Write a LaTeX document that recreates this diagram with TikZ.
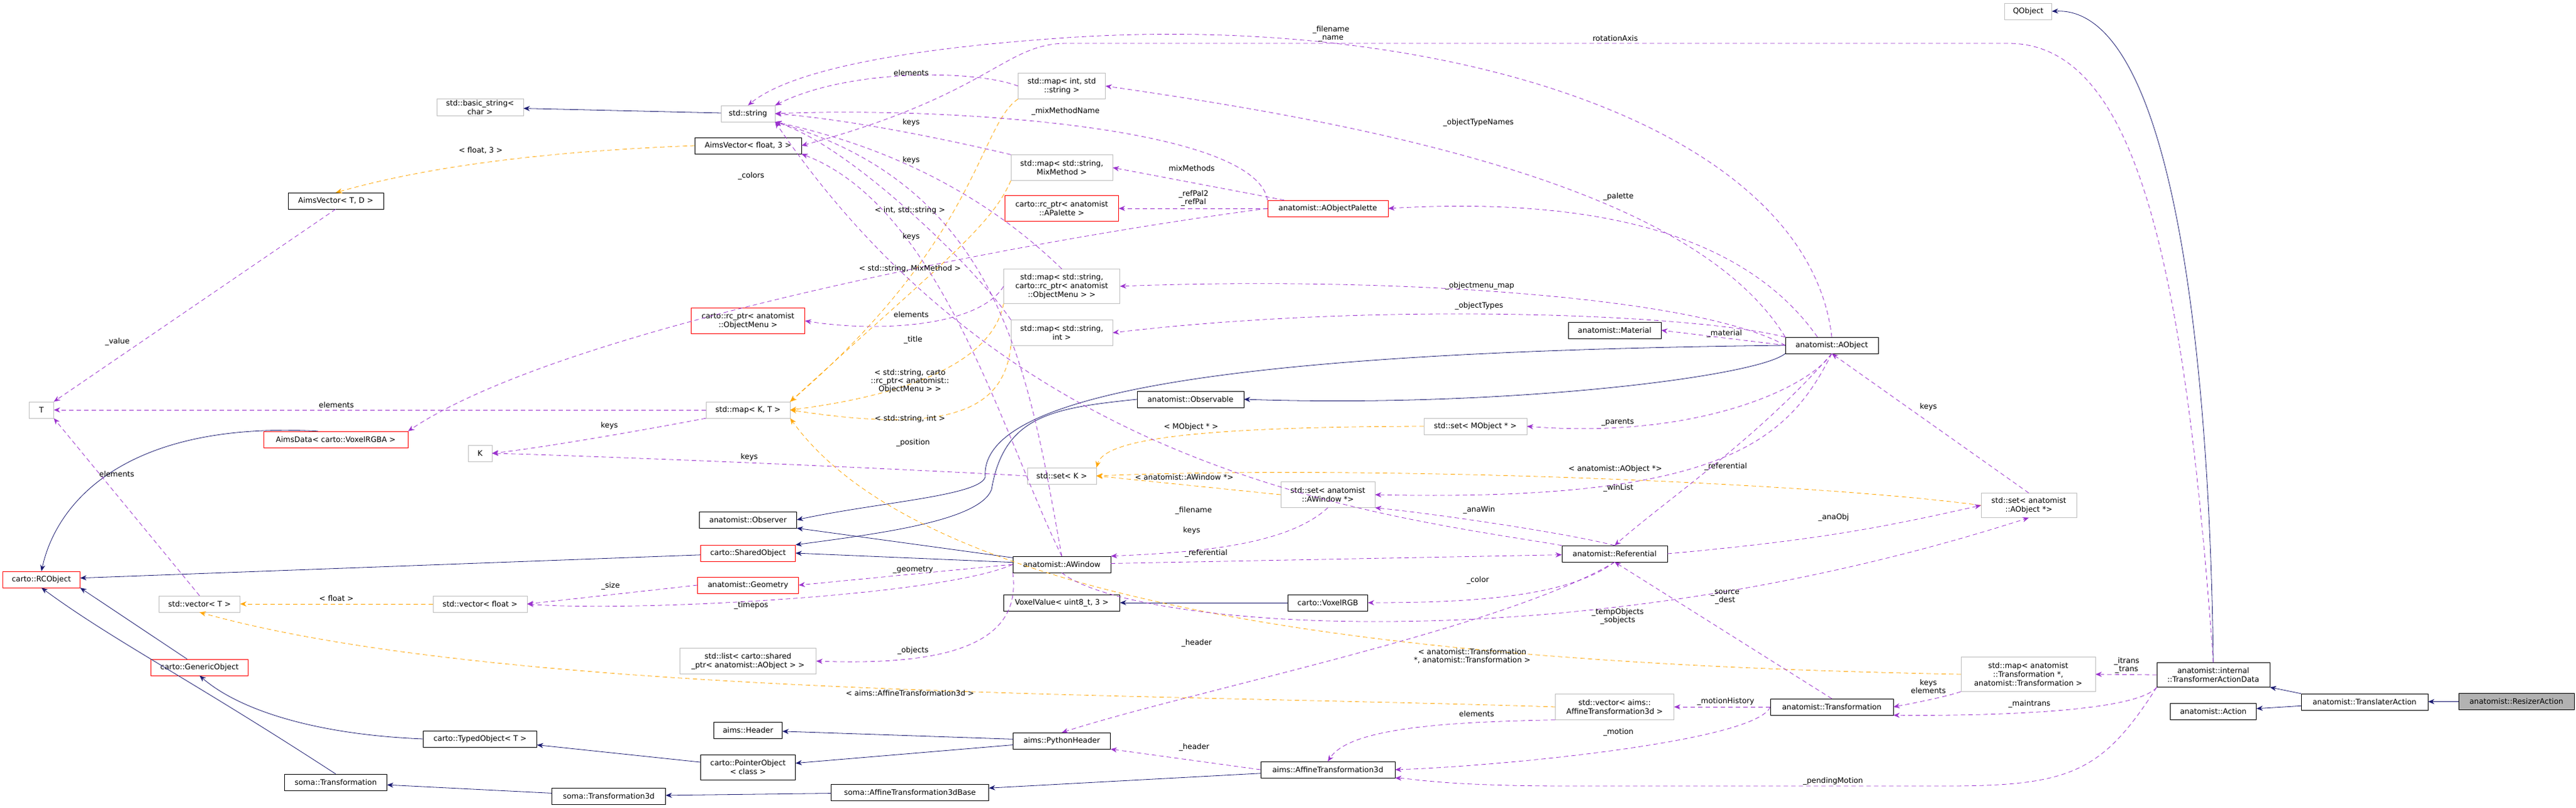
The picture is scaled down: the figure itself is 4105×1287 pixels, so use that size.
\documentclass[tikz,border=0pt]{standalone}
\usepackage{fontspec}
\setmainfont{DejaVu Sans}
\usetikzlibrary{arrows.meta}
\definecolor{inhcol}{RGB}{25,25,112}
\definecolor{usecol}{RGB}{154,50,205}
\definecolor{tplcol}{RGB}{255,165,0}
\definecolor{extcol}{RGB}{191,191,191}
\tikzset{
  box/.style={draw, fill=white, font=\fontsize{12}{14}\selectfont, align=center, inner sep=2pt, minimum height=26pt},
  cls/.style={box, draw=black},
  ext/.style={box, draw=extcol},
  redbox/.style={box, draw=red},
  hl/.style={box, draw=black, fill=black!30},
  lbl/.style={font=\fontsize{12}{13}\selectfont, align=center, inner sep=1pt, text=black},
  inh/.style={inhcol, thick, -{Stealth[length=10pt,width=8pt]}},
  use/.style={usecol, thick, dash pattern=on 7pt off 5pt, -{Stealth[length=10pt,width=8pt]}},
  tpl/.style={tplcol, thick, dash pattern=on 7pt off 5pt, -{Stealth[length=10pt,width=8pt]}}
}
\begin{document}
\begin{tikzpicture}[x=1pt,y=-1pt]
\useasboundingbox (0,0) rectangle (4105,1287);

% classes
\node[ext, minimum width=75pt] (qobj) at (3232,18) {QObject};
\node[ext, minimum width=138pt] (bstr) at (765,171) {std::basic\_string\textless\\char \textgreater};
\node[ext, minimum width=86pt] (str) at (1192,181) {std::string};
\node[cls, minimum width=170pt] (avf) at (1192,232) {AimsVector\textless{} float, 3 \textgreater};
\node[cls, minimum width=152pt] (avt) at (535,320) {AimsVector\textless{} T, D \textgreater};
\node[ext, minimum width=139pt, minimum height=41pt] (mapis) at (1692,137) {std::map\textless{} int, std\\::string \textgreater};
\node[ext, minimum width=162pt, minimum height=41pt] (mapmix) at (1692,267) {std::map\textless{} std::string,\\MixMethod \textgreater};
\node[redbox, minimum width=181pt, minimum height=41pt] (rcpal) at (1692,332) {carto::rc\_ptr\textless{} anatomist\\::APalette \textgreater};
\node[redbox, minimum width=192pt] (apal) at (2116,332) {anatomist::AObjectPalette};
\node[ext, minimum width=185pt, minimum height=55pt] (mapmenu) at (1692,456) {std::map\textless{} std::string,\\carto::rc\_ptr\textless{} anatomist\\::ObjectMenu \textgreater{} \textgreater};
\node[redbox, minimum width=181pt, minimum height=41pt] (rcmenu) at (1192,511) {carto::rc\_ptr\textless{} anatomist\\::ObjectMenu \textgreater};
\node[ext, minimum width=162pt, minimum height=41pt] (mapsi) at (1692,530) {std::map\textless{} std::string,\\int \textgreater};
\node[cls, minimum width=148pt] (mat) at (2573,526) {anatomist::Material};
\node[cls, minimum width=148pt] (aobj) at (2919,550) {anatomist::AObject};
\node[cls, minimum width=170pt] (obsable) at (1897,636) {anatomist::Observable};
\node[ext, minimum width=39pt] (tt) at (66,653) {T};
\node[ext, minimum width=134pt] (mapkt) at (1192,653) {std::map\textless{} K, T \textgreater};
\node[ext, minimum width=164pt] (setmo) at (2351,679) {std::set\textless{} MObject * \textgreater};
\node[redbox, minimum width=230pt] (aimsdata) at (535,700) {AimsData\textless{} carto::VoxelRGBA \textgreater};
\node[ext, minimum width=38pt] (kk) at (765,722) {K};
\node[ext, minimum width=110pt] (setk) at (1692,758) {std::set\textless{} K \textgreater};
\node[ext, minimum width=150pt, minimum height=41pt] (setwin) at (2116,788) {std::set\textless{} anatomist\\::AWindow *\textgreater};
\node[ext, minimum width=152pt, minimum height=39pt] (setobj) at (3233,805) {std::set\textless{} anatomist\\::AObject *\textgreater};
\node[cls, minimum width=155pt] (observer) at (1192,828) {anatomist::Observer};
\node[redbox, minimum width=151pt] (shared) at (1192,881) {carto::SharedObject};
\node[cls, minimum width=168pt] (refer) at (2573,882) {anatomist::Referential};
\node[cls, minimum width=156pt] (awin) at (1692,899) {anatomist::AWindow};
\node[redbox, minimum width=123pt] (rco) at (66,923) {carto::RCObject};
\node[redbox, minimum width=161pt] (geom) at (1192,932) {anatomist::Geometry};
\node[ext, minimum width=129pt] (vect) at (318,962) {std::vector\textless{} T \textgreater};
\node[ext, minimum width=150pt] (vecf) at (765,962) {std::vector\textless{} float \textgreater};
\node[cls, minimum width=185pt] (voxval) at (1692,960) {VoxelValue\textless{} uint8\_t, 3 \textgreater};
\node[cls, minimum width=127pt] (voxrgb) at (2116,960) {carto::VoxelRGB};
\node[ext, minimum width=217pt, minimum height=41pt] (listobj) at (1192,1053) {std::list\textless{} carto::shared\\\_ptr\textless{} anatomist::AObject \textgreater{} \textgreater};
\node[redbox, minimum width=155pt] (generic) at (318,1063) {carto::GenericObject};
\node[ext, minimum width=214pt, minimum height=55pt] (maptr) at (3232,1074) {std::map\textless{} anatomist\\::Transformation *,\\anatomist::Transformation \textgreater};
\node[cls, minimum width=180pt, minimum height=39pt] (tad) at (3527,1075) {anatomist::internal\\::TransformerActionData};
\node[ext, minimum width=189pt, minimum height=41pt] (vecaff) at (2573,1126) {std::vector\textless{} aims::\\AffineTransformation3d \textgreater};
\node[cls, minimum width=196pt] (transf) at (2919,1126) {anatomist::Transformation};
\node[cls, minimum width=137pt] (action) at (3527,1133) {anatomist::Action};
\node[cls, minimum width=202pt] (transl) at (3768,1118) {anatomist::TranslaterAction};
\node[hl, minimum width=184pt] (resizer) at (4010,1117) {anatomist::ResizerAction};
\node[cls, minimum width=109pt] (header) at (1192,1163) {aims::Header};
\node[cls, minimum width=181pt] (typed) at (765,1177) {carto::TypedObject\textless{} T \textgreater};
\node[cls, minimum width=155pt] (pyhead) at (1692,1180) {aims::PythonHeader};
\node[cls, minimum width=151pt, minimum height=40pt] (pointer) at (1192,1222) {carto::PointerObject\\\textless{} class \textgreater};
\node[cls, minimum width=214pt] (aff3d) at (2116,1226) {aims::AffineTransformation3d};
\node[cls, minimum width=163pt] (somat) at (535,1246) {soma::Transformation};
\node[cls, minimum width=251pt] (affbase) at (1450,1262) {soma::AffineTransformation3dBase};
\node[cls, minimum width=181pt] (somat3) at (970,1268) {soma::Transformation3d};

% inheritance
\draw[inh] (str) -- (bstr);
\draw[inh] (aimsdata.155) .. controls (200,670) and (90,800) .. (rco.north);
\draw[inh] (shared) -- (rco);
\draw[inh] (generic) -- (rco.south east);
\draw[inh] (somat.north) .. controls (300,1080) and (180,1020) .. (rco.south);
\draw[inh] (typed.west) .. controls (500,1170) and (380,1130) .. (generic.south);
\draw[inh] (pointer) -- (typed);
\draw[inh] (somat3) -- (somat);
\draw[inh] (affbase) -- (somat3);
\draw[inh] (aff3d) -- (affbase);
\draw[inh] (pyhead) -- (header);
\draw[inh] (pyhead) -- (pointer);
\draw[inh] (awin) -- (observer.south east);
\draw[inh] (awin) -- (shared.east);
\draw[inh] (aobj.west) .. controls (2000,560) and (1560,620) .. (1570,760) .. controls (1560,790) and (1400,800) .. (observer.east);
\draw[inh] (obsable.west) .. controls (1680,650) and (1600,660) .. (1580,780) .. controls (1560,830) and (1400,850) .. (shared.north east);
\draw[inh] (aobj.south west) .. controls (2800,600) and (2400,650) .. (obsable.east);
\draw[inh] (voxrgb) -- (voxval);
\draw[inh] (tad.north) .. controls (3520,500) and (3450,10) .. (qobj.east);
\draw[inh] (transl.north west) -- (tad.south east);
\draw[inh] (transl) -- (action);
\draw[inh] (resizer) -- (transl);

% templates
\draw[tpl] (avf.west) .. controls (900,240) and (700,260) .. (avt.north);
\draw[tpl] (vecf) -- (vect);
\draw[tpl] (vecaff.west) .. controls (1800,1104) and (800,1110) .. (vect.south);
\draw[tpl] (mapis.south west) .. controls (1560,200) and (1560,380) .. (mapkt.north east);
\draw[tpl] (mapmix.south west) .. controls (1580,360) and (1500,420) .. (mapkt.north east);
\draw[tpl] (mapmenu.south west) .. controls (1580,580) and (1440,630) .. (mapkt.east);
\draw[tpl] (mapsi.south west) .. controls (1600,660) and (1500,690) .. (mapkt.east);
\draw[tpl] (maptr.west) .. controls (2400,1060) and (1500,1000) .. (mapkt.south east);
\draw[tpl] (setmo.west) .. controls (1900,680) and (1760,700) .. (setk.north east);
\draw[tpl] (setwin.west) -- (setk.east);
\draw[tpl] (setobj.west) .. controls (2900,770) and (2200,740) .. (setk.east);

% usage
\draw[use] (avt.south) -- (tt.north east);
\draw[use] (mapkt) -- (tt);
\draw[use] (mapkt.south west) .. controls (1000,690) and (850,715) .. (kk.east);
\draw[use] (setk.west) .. controls (1300,740) and (900,725) .. (kk.east);
\draw[use] (vect.north) -- (tt.south east);
\draw[use] (geom.west) -- (vecf.east);
\draw[use] (awin.west) .. controls (1500,950) and (1000,975) .. (vecf.east);
\draw[use] (apal.west) .. controls (1650,380) and (900,520) .. (aimsdata.north east);
\draw[use] (mapis.west) .. controls (1550,110) and (1350,110) .. (str.north east);
\draw[use] (mapmix.north west) .. controls (1500,220) and (1350,190) .. (str.east);
\draw[use] (mapmenu.north) .. controls (1560,300) and (1400,230) .. (str.south east);
\draw[use] (mapmenu.west) .. controls (1560,520) and (1400,530) .. (rcmenu.east);
\draw[use] (mapsi.north west) .. controls (1550,420) and (1350,230) .. (str.south east);
\draw[use] (apal.north west) .. controls (2000,200) and (1500,170) .. (str.east);
\draw[use] (apal) -- (mapmix.east);
\draw[use] (apal) -- (rcpal);
\draw[use] (aobj.north) .. controls (2880,200) and (2300,20) .. (1700,60) .. controls (1400,80) and (1250,120) .. (str.north);
\draw[use] (aobj.north west) .. controls (2700,300) and (2200,200) .. (mapis.east);
\draw[use] (aobj.150) .. controls (2800,400) and (2600,310) .. (apal.east);
\draw[use] (aobj.west) .. controls (2700,470) and (2200,440) .. (mapmenu.east);
\draw[use] (aobj.170) .. controls (2700,500) and (2200,480) .. (mapsi.east);
\draw[use] (aobj.west) -- (mat.east);
\draw[use] (aobj.south) .. controls (2880,620) and (2700,700) .. (setmo.east);
\draw[use] (aobj.south) .. controls (2850,700) and (2750,800) .. (setwin.east);
\draw[use] (aobj.south) .. controls (2800,700) and (2650,800) .. (refer.north);
\draw[use] (awin.north) .. controls (1640,600) and (1600,300) .. (str.south east);
\draw[use] (awin.north) .. controls (1600,700) and (1500,330) .. (avf.south east);
\draw[use] (awin.west) -- (geom.east);
\draw[use] (awin.south west) .. controls (1630,1030) and (1500,1060) .. (listobj.east);
\draw[use] (awin) -- (refer);
\draw[use] (awin.south) .. controls (1800,1000) and (2500,1060) .. (setobj.south);
\draw[use] (refer.north west) .. controls (2200,820) and (1620,760) .. (str.south east);
\draw[use] (refer.north) .. controls (2500,850) and (2300,820) .. (setwin.south east);
\draw[use] (refer.east) .. controls (2900,860) and (3000,840) .. (setobj.west);
\draw[use] (refer.south) .. controls (2500,950) and (2350,960) .. (voxrgb.east);
\draw[use] (refer.south) .. controls (2400,1000) and (1900,1100) .. (pyhead.north);
\draw[use] (setwin.south) .. controls (2050,870) and (1900,880) .. (awin.north east);
\draw[use] (setobj.north) -- (aobj.south);
\draw[use] (transf.north) -- (refer.south);
\draw[use] (transf.west) -- (vecaff.east);
\draw[use] (transf.west) .. controls (2800,1180) and (2400,1220) .. (aff3d.east);
\draw[use] (vecaff.south west) .. controls (2300,1150) and (2150,1160) .. (aff3d.north);
\draw[use] (aff3d.west) -- (pyhead.south east);
\draw[use] (maptr.south west) .. controls (3100,1110) and (3050,1120) .. (transf.east);
\draw[use] (tad.west) -- (maptr.east);
\draw[use] (tad.south west) .. controls (3400,1140) and (3100,1140) .. (transf.south east);
\draw[use] (tad.south west) .. controls (3350,1230) and (3300,1252) .. (3100,1252) -- (2500,1252) .. controls (2300,1252) and (2250,1240) .. (aff3d.south east);
\draw[use] (tad.north) .. controls (3480,400) and (3400,69) .. (3200,69) -- (1700,69) .. controls (1600,69) and (1580,150) .. (avf.east);

% labels
\node[lbl] (l0) at (536,645) {elements};
\node[lbl] (l1) at (766,240) {\textless{} float, 3 \textgreater};
\node[lbl] (l2) at (1197,280) {\_colors};
\node[lbl] (l3) at (187,544) {\_value};
\node[lbl] (l4) at (971,678) {keys};
\node[lbl] (l5) at (1194,728) {keys};
\node[lbl] (l6) at (186,755) {elements};
\node[lbl] (l7) at (536,953) {\textless{} float \textgreater};
\node[lbl] (l8) at (973,933) {\_size};
\node[lbl] (l9) at (1197,964) {\_timepos};
\node[lbl] (l10) at (1450,1104) {\textless{} aims::AffineTransformation3d \textgreater};
\node[lbl] (l11) at (2121,54) {\_filename\\\_name};
\node[lbl] (l12) at (2574,61) {rotationAxis};
\node[lbl] (l13) at (1452,116) {elements};
\node[lbl] (l14) at (1698,177) {\_mixMethodName};
\node[lbl] (l15) at (1452,195) {keys};
\node[lbl] (l16) at (2356,195) {\_objectTypeNames};
\node[lbl] (l17) at (1452,255) {keys};
\node[lbl] (l18) at (1899,268) {mixMethods};
\node[lbl] (l19) at (1902,316) {\_refPal2\\\_refPal};
\node[lbl] (l20) at (2579,313) {\_palette};
\node[lbl] (l21) at (1450,335) {\textless{} int, std::string \textgreater};
\node[lbl] (l22) at (1452,377) {keys};
\node[lbl] (l23) at (1450,428) {\textless{} std::string, MixMethod \textgreater};
\node[lbl] (l24) at (2358,455) {\_objectmenu\_map};
\node[lbl] (l25) at (2357,487) {\_objectTypes};
\node[lbl] (l26) at (1452,501) {elements};
\node[lbl] (l27) at (1455,541) {\_title};
\node[lbl] (l28) at (2748,531) {\_material};
\node[lbl] (l29) at (1450,607) {\textless{} std::string, carto\\::rc\_ptr\textless{} anatomist::\\ObjectMenu \textgreater{} \textgreater};
\node[lbl] (l30) at (1450,667) {\textless{} std::string, int \textgreater};
\node[lbl] (l31) at (1455,705) {\_position};
\node[lbl] (l32) at (1898,680) {\textless{} MObject * \textgreater};
\node[lbl] (l33) at (2578,673) {\_parents};
\node[lbl] (l34) at (2574,747) {\textless{} anatomist::AObject *\textgreater};
\node[lbl] (l35) at (1887,760) {\textless{} anatomist::AWindow *\textgreater};
\node[lbl] (l36) at (2579,777) {\_winList};
\node[lbl] (l37) at (2750,743) {\_referential};
\node[lbl] (l38) at (1902,813) {\_filename};
\node[lbl] (l39) at (2357,812) {\_anaWin};
\node[lbl] (l40) at (1899,845) {keys};
\node[lbl] (l41) at (1922,881) {\_referential};
\node[lbl] (l42) at (1455,908) {\_geometry};
\node[lbl] (l43) at (2355,924) {\_color};
\node[lbl] (l44) at (2749,951) {\_source\\\_dest};
\node[lbl] (l45) at (2578,982) {\_tempObjects\\\_sobjects};
\node[lbl] (l46) at (1907,1024) {\_header};
\node[lbl] (l47) at (1455,1036) {\_objects};
\node[lbl] (l48) at (2346,1045) {\textless{} anatomist::Transformation\\*, anatomist::Transformation \textgreater};
\node[lbl] (l49) at (2750,1117) {\_motionHistory};
\node[lbl] (l50) at (2353,1137) {elements};
\node[lbl] (l51) at (2579,1166) {\_motion};
\node[lbl] (l52) at (1903,1190) {\_header};
\node[lbl] (l53) at (3073,648) {keys};
\node[lbl] (l54) at (2922,824) {\_anaObj};
\node[lbl] (l55) at (3389,1060) {\_itrans\\\_trans};
\node[lbl] (l56) at (3073,1094) {keys\\elements};
\node[lbl] (l57) at (3234,1121) {\_maintrans};
\node[lbl] (l58) at (2921,1244) {\_pendingMotion};
\end{tikzpicture}
\end{document}
